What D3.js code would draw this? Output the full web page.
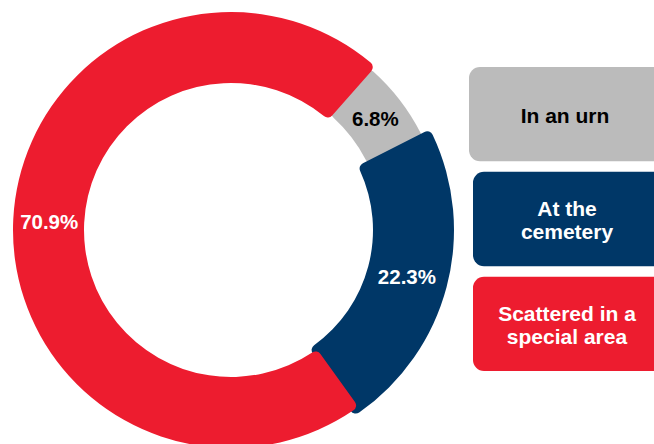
<!DOCTYPE html>
<html><head><meta charset="utf-8">
<script src="https://cdn.jsdelivr.net/npm/d3@7"></script>
<style>html,body{margin:0;padding:0;background:#fff;}svg{display:block;}</style>
</head><body>
<svg id="chart" width="654" height="444"></svg>
<script>
const categories = ["Scattered in a special area", "In an urn", "At the cemetery"];
const values = [70.9, 6.8, 22.3];
const labels = ["70.9%", "6.8%", "22.3%"];
const legendLines = [["In an urn"], ["At the", "cemetery"], ["Scattered in a", "special area"]];
const colors = ["#ED1C2F", "#BBBBBB", "#003767"];
const textColors = ["#fff", "#000", "#fff"];

const svg = d3.select("#chart");
const cx = 231, cy = 230;
const deg = Math.PI / 180;
const radii = [[147, 218], [152, 213], [142, 223]];
const ext = [[0.8, 1.2], [0, 0], [1.6, 1.5]]; // overlap extension (deg) at start/end

const pie = d3.pie().sort(null).value(d => d).startAngle(145 * deg).endAngle(505 * deg);
const arcsData = pie(values);

const g = svg.append("g").attr("transform", `translate(${cx},${cy})`);
const drawOrder = [1, 2, 0];
drawOrder.forEach(i => {
  const a = arcsData[i];
  const arc = d3.arc().innerRadius(radii[i][0]).outerRadius(radii[i][1]).cornerRadius(6);
  g.append("path")
    .attr("d", arc({startAngle: a.startAngle - ext[i][0] * deg, endAngle: a.endAngle + ext[i][1] * deg}))
    .attr("fill", colors[i]);
});
const labelArc = d3.arc().innerRadius(182).outerRadius(182);
arcsData.forEach((a, i) => {
  const [x, y] = labelArc.centroid(a);
  g.append("text").attr("x", x).attr("y", y).attr("dy", "0.35em")
    .attr("text-anchor", "middle")
    .attr("font-family", "Liberation Sans, Arial, sans-serif")
    .attr("font-weight", "bold").attr("font-size", 20.5)
    .attr("fill", textColors[i]).text(labels[i]);
});

// legend
const legendOrder = [1, 2, 0];
const boxY = d3.scaleBand().domain(legendOrder).range([67, 371]).paddingInner(0.1);
legendOrder.forEach((i, k) => {
  const y0 = boxY(i), h = boxY.bandwidth();
  const x0 = k === 0 ? 469 : 473;
  svg.append("rect").attr("x", x0).attr("y", y0).attr("width", 654 - x0 + 12).attr("height", h)
    .attr("rx", 11).attr("fill", colors[i]);
  const lines = legendLines[k];
  const lh = 23;
  const t = svg.append("text").attr("text-anchor", "middle")
    .attr("font-family", "Liberation Sans, Arial, sans-serif")
    .attr("font-weight", "bold").attr("font-size", 21)
    .attr("fill", textColors[i]);
  lines.forEach((ln, j) => {
    t.append("tspan").attr("x", k === 0 ? 565 : 567)
      .attr("y", y0 + h / 2 + (j - (lines.length - 1) / 2) * lh + 1)
      .attr("dy", "0.35em").text(ln);
  });
});
</script>
</body></html>
